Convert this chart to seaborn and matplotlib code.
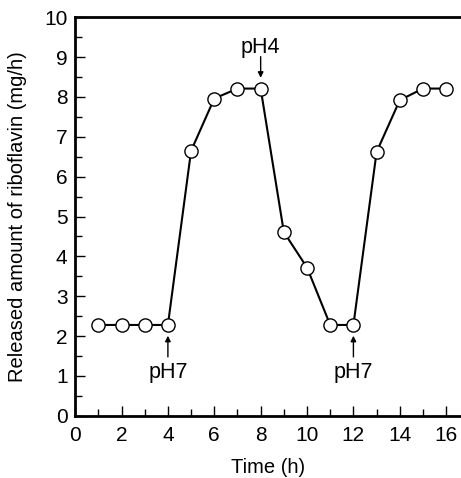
import pandas as pd
import matplotlib.pyplot as plt
import seaborn as sns
from matplotlib.ticker import MultipleLocator

# ============ DataSet ============
time_h = [1, 2, 3, 4, 5, 6, 7, 8, 9, 10, 11, 12, 13, 14, 15, 16]
released = [2.28, 2.28, 2.28, 2.28, 6.65, 7.96, 8.21, 8.21, 4.61, 3.72,
            2.28, 2.28, 6.62, 7.92, 8.21, 8.21]

ph_labels = ['pH7', 'pH4', 'pH7']
ph_times = [4, 8, 12]

df = pd.DataFrame({'Time': time_h, 'Released': released})

# ============ Style ============
sns.set_style('ticks')
plt.rcParams['font.family'] = ['Liberation Sans', 'DejaVu Sans']
plt.rcParams['font.size'] = 15
for key in ['text.color', 'axes.labelcolor', 'xtick.color', 'ytick.color', 'axes.edgecolor']:
    plt.rcParams[key] = 'black'

fig = plt.figure(figsize=(4.61, 4.78), dpi=100)
ax = fig.add_axes([0.163, 0.13, 0.835, 0.834])

sns.lineplot(data=df, x='Time', y='Released', ax=ax, color='black', linewidth=1.5,
             marker='o', markersize=9.5, markerfacecolor='white',
             markeredgecolor='black', markeredgewidth=1.0)

# ============ Arrows for pH switch ============
for lab, t in zip(ph_labels, ph_times):
    y0 = df.loc[df['Time'] == t, 'Released'].iloc[0]
    if lab == 'pH4':
        ax.annotate('', xy=(t, y0 + 0.27), xytext=(t, y0 + 0.8),
                    arrowprops=dict(arrowstyle='-|>', color='black', lw=1,
                                    mutation_scale=8, shrinkA=0, shrinkB=0))
        ax.text(t, y0 + 1.03, 'pH4', ha='center', va='center', fontsize=15.5)
    else:
        ax.annotate('', xy=(t, y0 - 0.27), xytext=(t, y0 - 0.8),
                    arrowprops=dict(arrowstyle='-|>', color='black', lw=1,
                                    mutation_scale=8, shrinkA=0, shrinkB=0))
        ax.text(t, y0 - 1.18, lab, ha='center', va='center', fontsize=15.5)

# ============ Axes ============
ax.set_xlim(0, 16.6)
ax.set_ylim(0, 10)
ax.xaxis.set_major_locator(MultipleLocator(2))
ax.xaxis.set_minor_locator(MultipleLocator(1))
ax.yaxis.set_major_locator(MultipleLocator(1))
ax.yaxis.set_minor_locator(MultipleLocator(0.5))
ax.tick_params(which='major', direction='in', length=7.5, width=1, labelsize=15)
ax.tick_params(which='minor', direction='in', length=5, width=1)
ax.tick_params(axis='x', which='major', pad=7)
ax.tick_params(axis='y', which='major', pad=5.5)
ax.set_xlabel('Time (h)', fontsize=14.5, labelpad=10)
ax.set_ylabel('Released amount of riboflavin (mg/h)', fontsize=14.5, labelpad=12)

sns.despine(ax=ax, top=False, right=True)
for side in ['left', 'bottom', 'top']:
    ax.spines[side].set_linewidth(2)

fig.savefig('out.png', dpi=100)
